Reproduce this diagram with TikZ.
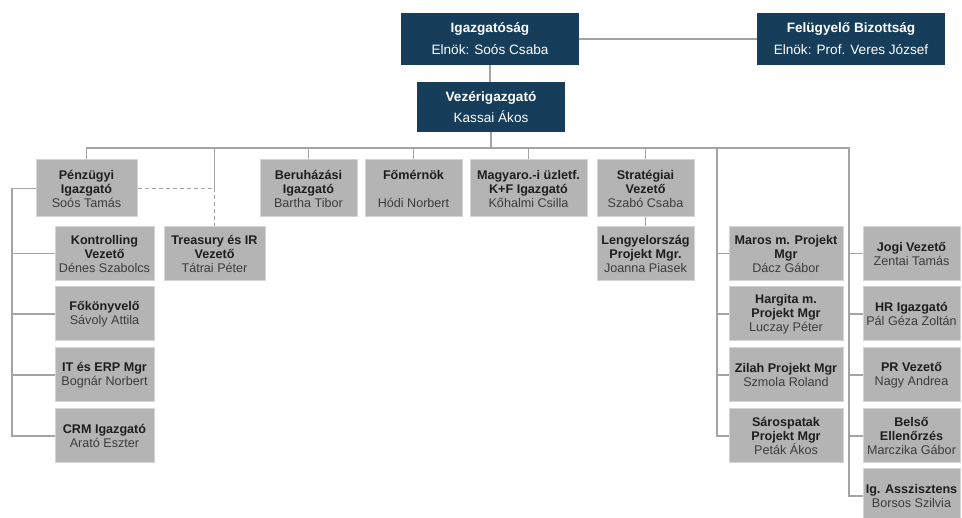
\documentclass[tikz,border=0pt]{standalone}
\usepackage{fontspec}
\setmainfont{Liberation Sans}
\definecolor{navy}{HTML}{163D5A}
\definecolor{boxgray}{HTML}{B4B4B4}
\definecolor{boxedge}{HTML}{D4D4D4}
\definecolor{linegray}{HTML}{A4A4A4}
\definecolor{titlegray}{HTML}{1E1E1E}
\definecolor{namegray}{HTML}{3C3C3C}
\newcommand{\who}[1]{{\mdseries\color{namegray}#1}}

\begin{document}
\begin{tikzpicture}[x=1pt, y=-1pt,
  board/.style={fill=navy, text=white, inner sep=0pt, align=center,
    minimum height=52pt, font=\fontsize{13.6}{16}\selectfont\bfseries},
  unit/.style={fill=boxgray, draw=boxedge, line width=1pt, inner sep=0pt,
    align=center, text=titlegray, minimum width=#1, minimum height=54pt,
    font=\fontsize{12.6}{14}\selectfont\bfseries},
  unit/.default=97pt,
  link/.style={draw=linegray, line width=1.2pt}]
  \useasboundingbox (0,0) rectangle (962,518);
  % board level
  \node[board, minimum width=178pt] (ig) at (490,39) {Igazgatóság\\[6pt]\mdseries Elnök: Soós Csaba};
  \node[board, minimum width=188pt] (fb) at (851,39) {Felügyelő Bizottság\\[6pt]\mdseries Elnök: Prof. Veres József};
  \node[board, minimum width=148pt, minimum height=50pt] (vez) at (491,107) {Vezérigazgató\\[5pt]\mdseries Kassai Ákos};
  % directors
  \node[unit=101pt, minimum height=57pt] (pig) at (86.5,188.5) {Pénzügyi\\Igazgató\\\who{Soós Tamás}};
  \node[unit, minimum height=57pt] (ber) at (308.5,188.5) {Beruházási\\Igazgató\\\who{Bartha Tibor}};
  \node[unit, minimum height=57pt] (fom) at (413.5,188.5) {Főmérnök\\[14pt]\who{Hódi Norbert}};
  \node[unit=117pt, minimum height=57pt] (mag) at (528.5,188.5) {Magyaro.-i üzletf.\\K+F Igazgató\\\who{Kőhalmi Csilla}};
  \node[unit, minimum height=57pt] (str) at (645.5,188.5) {Stratégiai\\Vezető\\\who{Szabó Csaba}};
  % finance
  \node[unit=101pt] (tre) at (214.5,253.5) {Treasury és IR\\Vezető\\\who{Tátrai Péter}};
  \node[unit=99pt] (kon) at (104.5,253.5) {Kontrolling\\Vezető\\\who{Dénes Szabolcs}};
  \node[unit=99pt] (fok) at (104.5,314) {Főkönyvelő\\\who{Sávoly Attila}};
  \node[unit=99pt] (ite) at (104.5,375) {IT és ERP Mgr\\\who{Bognár Norbert}};
  \node[unit=99pt] (crm) at (104.5,436) {CRM Igazgató\\\who{Arató Eszter}};
  \node[unit] (len) at (645.5,253.5) {Lengyelország\\Projekt Mgr.\\\who{Joanna Piasek}};
  % projects
  \node[unit=114pt] (mar) at (786,253.5) {Maros m. Projekt\\Mgr\\\who{Dácz Gábor}};
  \node[unit=114pt] (har) at (786,314) {Hargita m.\\Projekt Mgr\\\who{Luczay Péter}};
  \node[unit=114pt] (zil) at (786,375) {Zilah Projekt Mgr\\\who{Szmola Roland}};
  \node[unit=114pt] (sar) at (786,436) {Sárospatak\\Projekt Mgr\\\who{Peták Ákos}};
  % staff
  \node[unit] (jog) at (911.5,253.5) {Jogi Vezető\\\who{Zentai Tamás}};
  \node[unit] (hr) at (911.5,314) {HR Igazgató\\\who{Pál Géza Zoltán}};
  \node[unit] (pr) at (911.5,375) {PR Vezető\\\who{Nagy Andrea}};
  \node[unit] (bel) at (911.5,436) {Belső\\Ellenőrzés\\\who{Marczika Gábor}};
  \node[unit] (asz) at (911.5,496) {Ig. Asszisztens\\\who{Borsos Szilvia}};

  % connectors
  \coordinate (busR) at (849,148);
  \coordinate (prj) at (717,148);
  \coordinate (fin) at (12,0);
  \draw[link] (ig.east) -- (fb.west);
  \draw[link] (ig.south) -- (ig.south |- vez.north);
  \draw[link] (vez.south) -- (vez.south |- busR);
  \draw[link] (pig.north) -- (pig.north |- busR) -- (busR) |- (asz.west);
  \foreach \n in {ber,fom,mag,str}
    \draw[link] (\n.north) -- (\n.north |- busR);
  \draw[link] (tre.north |- busR) -- (tre.north |- pig.east);
  \draw[link, dash pattern=on 4pt off 3pt] (pig.east) -| (tre.north);
  \draw[link] (str.south) -- (len.north);
  \draw[link] (pig.west) -- (pig.west -| fin) |- (crm.west);
  \foreach \n in {kon,fok,ite}
    \draw[link] (\n.west) -- (\n.west -| fin);
  \draw[link] (prj) |- (sar.west);
  \foreach \n in {mar,har,zil}
    \draw[link] (\n.west) -- (\n.west -| prj);
  \foreach \n in {jog,hr,pr,bel}
    \draw[link] (\n.west) -- (\n.west -| busR);
\end{tikzpicture}
\end{document}
